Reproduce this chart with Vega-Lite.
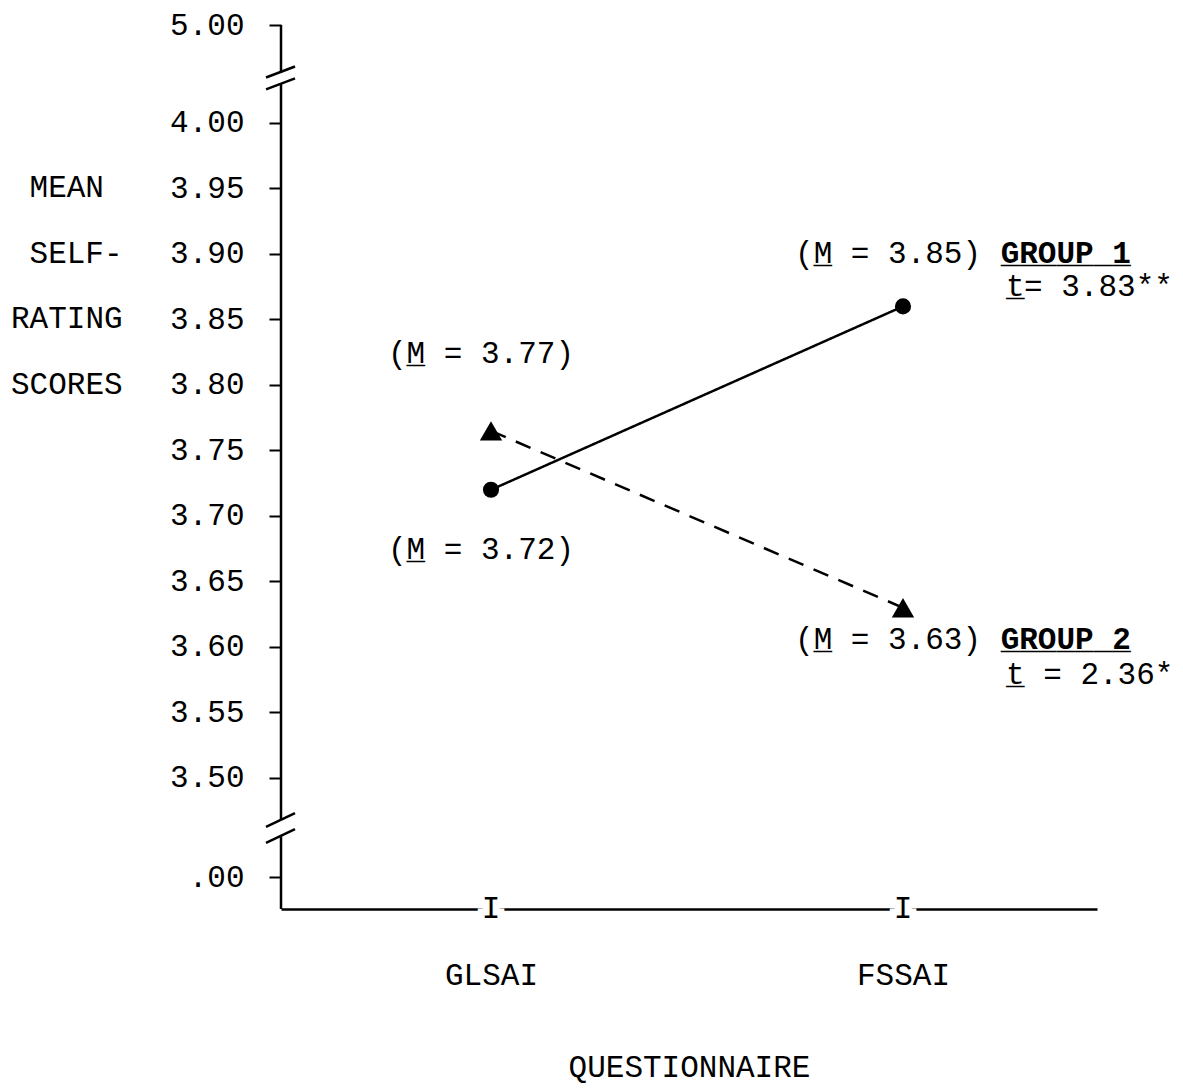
{
  "$schema": "https://vega.github.io/schema/vega-lite/v6.json",
  "width": 816,
  "height": 884,
  "autosize": {"type": "none"},
  "padding": {"left": 281, "top": 25, "right": 86, "bottom": 179},
  "background": "white",
  "config": {
    "view": {"stroke": null},
    "font": "Liberation Mono",
    "text": {"font": "Liberation Mono", "fontSize": 31, "color": "black", "baseline": "middle"}
  },
  "datasets": {
    "means": [
      {"group": "GROUP 1", "questionnaire": "GLSAI", "order": 1, "mean": 3.72},
      {"group": "GROUP 1", "questionnaire": "FSSAI", "order": 2, "mean": 3.86},
      {"group": "GROUP 2", "questionnaire": "GLSAI", "order": 1, "mean": 3.765},
      {"group": "GROUP 2", "questionnaire": "FSSAI", "order": 2, "mean": 3.63}
    ],
    "questionnaires": [
      {"questionnaire": "GLSAI", "order": 1},
      {"questionnaire": "FSSAI", "order": 2}
    ],
    "axisline": [
      {"from": 4.0748, "to": 4.0389},
      {"from": 4.0298, "to": 3.4679},
      {"from": 3.4557, "to": 3.40}
    ],
    "breaks": [
      {"x1": 0.4539, "x2": 0.5243, "y1": 4.0347, "y2": 4.0431},
      {"x1": 0.4539, "x2": 0.5243, "y1": 4.0256, "y2": 4.0340},
      {"x1": 0.4539, "x2": 0.5243, "y1": 3.4626, "y2": 3.4732},
      {"x1": 0.4539, "x2": 0.5243, "y1": 3.4504, "y2": 3.4610}
    ],
    "notesLeft": [
      {"text": "MEAN", "x": -0.120, "y": 3.95},
      {"text": "SELF-", "x": -0.120, "y": 3.90},
      {"text": "RATING", "x": -0.165, "y": 3.85},
      {"text": "SCORES", "x": -0.165, "y": 3.80},
      {"text": "(M = 3.85)", "x": 1.738, "y": 3.90},
      {"text": "_", "x": 1.783, "y": 3.90},
      {"text": "(M = 3.77)", "x": 0.75, "y": 3.824},
      {"text": "_", "x": 0.795, "y": 3.824},
      {"text": "(M = 3.72)", "x": 0.75, "y": 3.674},
      {"text": "_", "x": 0.795, "y": 3.674},
      {"text": "(M = 3.63)", "x": 1.738, "y": 3.605},
      {"text": "_", "x": 1.783, "y": 3.605},
      {"text": "t", "x": 2.250, "y": 3.875},
      {"text": "_", "x": 2.250, "y": 3.875},
      {"text": "t = 2.36*", "x": 2.250, "y": 3.579},
      {"text": "_", "x": 2.250, "y": 3.579}
    ],
    "notesBold": [
      {"text": "GROUP 1", "x": 2.237, "y": 3.90},
      {"text": "_______", "x": 2.237, "y": 3.90},
      {"text": "GROUP 2", "x": 2.237, "y": 3.605},
      {"text": "_______", "x": 2.237, "y": 3.605}
    ],
    "notesRight": [
      {"text": "= 3.83**", "x": 2.655, "y": 3.875}
    ]
  },
  "layer": [
    {
      "data": {"name": "means"},
      "mark": {"type": "line", "color": "black", "strokeWidth": 2.5},
      "encoding": {
        "x": {
          "field": "order", "type": "quantitative",
          "scale": {"domain": [0.4903, 2.4709], "nice": false, "zero": false},
          "axis": {
            "values": [1, 2],
            "labelExpr": "datum.value == 1 ? 'GLSAI' : 'FSSAI'",
            "ticks": false, "tickSize": 0,
            "grid": false,
            "domain": true, "domainColor": "black", "domainWidth": 2.5,
            "labelFont": "Liberation Mono", "labelFontSize": 31, "labelColor": "black",
            "labelBaseline": "middle", "labelPadding": 66, "labelFlush": false, "labelBound": false,
            "title": "QUESTIONNAIRE",
            "titleFont": "Liberation Mono", "titleFontSize": 31, "titleFontWeight": "normal",
            "titleColor": "black", "titlePadding": 62
          }
        },
        "y": {
          "field": "mean", "type": "quantitative",
          "scale": {"domain": [3.40, 4.0748], "nice": false, "zero": false},
          "axis": {
            "values": [3.4244, 3.5, 3.55, 3.6, 3.65, 3.7, 3.75, 3.8, 3.85, 3.9, 3.95, 4.0, 4.0748],
            "labelExpr": "datum.value < 3.45 ? '.00' : (datum.value > 4.05 ? '5.00' : format(datum.value, '.2f'))",
            "domain": false, "grid": false,
            "ticks": true, "tickSize": 12, "tickWidth": 2, "tickColor": "black",
            "labelFont": "Liberation Mono", "labelFontSize": 31, "labelColor": "black",
            "labelPadding": 25, "labelFlush": false, "labelBound": false, "labelOverlap": false,
            "title": null
          }
        },
        "detail": {"field": "group", "type": "nominal"},
        "strokeDash": {
          "field": "group", "type": "nominal",
          "scale": {"domain": ["GROUP 1", "GROUP 2"], "range": [[1, 0], [16, 11]]},
          "legend": null
        }
      }
    },
    {
      "data": {"name": "axisline"},
      "mark": {"type": "rule", "color": "black", "strokeWidth": 2.5},
      "encoding": {
        "x": {"datum": 0.4903, "type": "quantitative", "scale": {"domain": [0.4903, 2.4709], "nice": false, "zero": false}},
        "y": {"field": "from", "type": "quantitative", "scale": {"domain": [3.40, 4.0748], "nice": false, "zero": false}},
        "y2": {"field": "to"}
      }
    },
    {
      "data": {"name": "breaks"},
      "mark": {"type": "rule", "color": "black", "strokeWidth": 2.5},
      "encoding": {
        "x": {"field": "x1", "type": "quantitative", "scale": {"domain": [0.4903, 2.4709], "nice": false, "zero": false}},
        "x2": {"field": "x2"},
        "y": {"field": "y1", "type": "quantitative", "scale": {"domain": [3.40, 4.0748], "nice": false, "zero": false}},
        "y2": {"field": "y2"}
      }
    },
    {
      "data": {"name": "means"},
      "mark": {"type": "point", "filled": true, "color": "black", "opacity": 1},
      "encoding": {
        "x": {"field": "order", "type": "quantitative", "scale": {"domain": [0.4903, 2.4709], "nice": false, "zero": false}},
        "y": {"field": "mean", "type": "quantitative", "scale": {"domain": [3.40, 4.0748], "nice": false, "zero": false}},
        "shape": {
          "field": "group", "type": "nominal",
          "scale": {"domain": ["GROUP 1", "GROUP 2"], "range": ["circle", "triangle-up"]},
          "legend": null
        },
        "size": {
          "field": "group", "type": "ordinal",
          "scale": {"domain": ["GROUP 1", "GROUP 2"], "range": [260, 500]},
          "legend": null
        }
      }
    },
    {
      "data": {"name": "questionnaires"},
      "mark": {"type": "text", "text": "I", "align": "center", "baseline": "middle", "stroke": "white", "strokeWidth": 14, "color": "white"},
      "encoding": {
        "x": {"field": "order", "type": "quantitative", "scale": {"domain": [0.4903, 2.4709], "nice": false, "zero": false}},
        "y": {"datum": 3.40, "type": "quantitative", "scale": {"domain": [3.40, 4.0748], "nice": false, "zero": false}}
      }
    },
    {
      "data": {"name": "questionnaires"},
      "mark": {"type": "text", "text": "I", "align": "center", "baseline": "middle", "color": "black"},
      "encoding": {
        "x": {"field": "order", "type": "quantitative", "scale": {"domain": [0.4903, 2.4709], "nice": false, "zero": false}},
        "y": {"datum": 3.40, "type": "quantitative", "scale": {"domain": [3.40, 4.0748], "nice": false, "zero": false}}
      }
    },
    {
      "data": {"name": "notesLeft"},
      "mark": {"type": "text", "align": "left", "baseline": "middle", "color": "black"},
      "encoding": {
        "x": {"field": "x", "type": "quantitative", "scale": {"domain": [0.4903, 2.4709], "nice": false, "zero": false}},
        "y": {"field": "y", "type": "quantitative", "scale": {"domain": [3.40, 4.0748], "nice": false, "zero": false}},
        "text": {"field": "text"}
      }
    },
    {
      "data": {"name": "notesBold"},
      "mark": {"type": "text", "align": "left", "baseline": "middle", "fontWeight": "bold", "color": "black"},
      "encoding": {
        "x": {"field": "x", "type": "quantitative", "scale": {"domain": [0.4903, 2.4709], "nice": false, "zero": false}},
        "y": {"field": "y", "type": "quantitative", "scale": {"domain": [3.40, 4.0748], "nice": false, "zero": false}},
        "text": {"field": "text"}
      }
    },
    {
      "data": {"name": "notesRight"},
      "mark": {"type": "text", "align": "right", "baseline": "middle", "color": "black"},
      "encoding": {
        "x": {"field": "x", "type": "quantitative", "scale": {"domain": [0.4903, 2.4709], "nice": false, "zero": false}},
        "y": {"field": "y", "type": "quantitative", "scale": {"domain": [3.40, 4.0748], "nice": false, "zero": false}},
        "text": {"field": "text"}
      }
    }
  ]
}
